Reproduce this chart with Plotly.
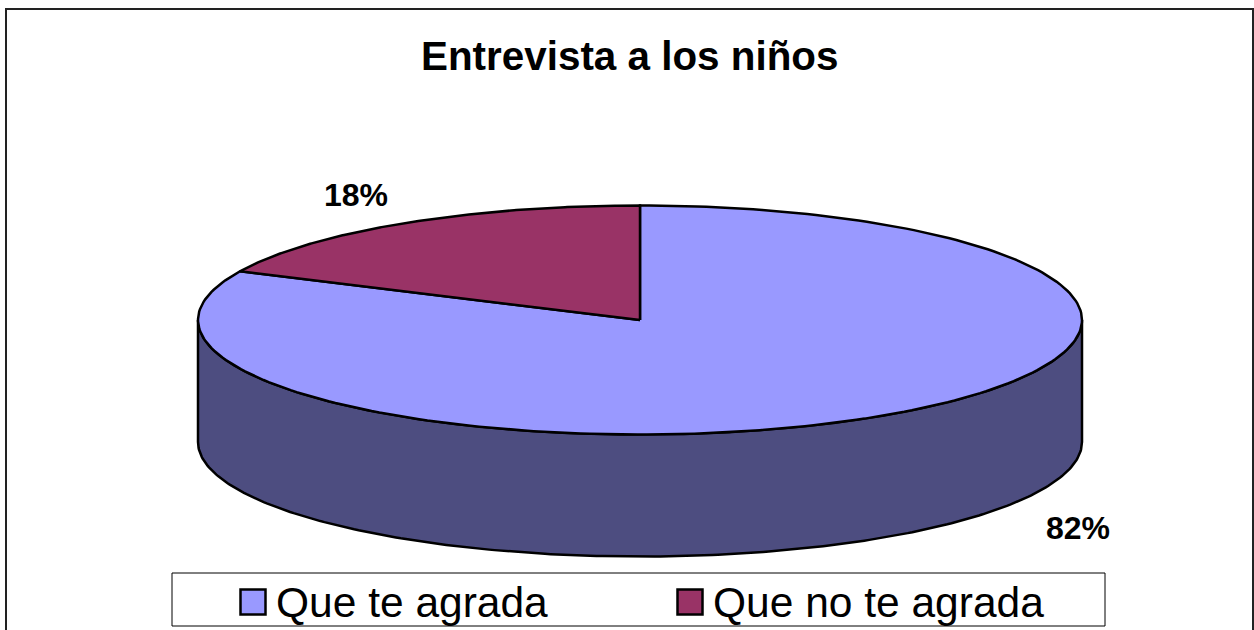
import numpy as np
import plotly.graph_objects as go

TITLE = "Entrevista a los niños"
categories = ["Que te agrada", "Que no te agrada"]
values = [82, 18]
top_colors = ["#9999FF", "#993366"]
side_colors = ["#4D4D80", "#4D1A33"]

W, H = 1254, 630
CX, CY, RX, RY, DEPTH = 640, 320, 442, 114.5, 122
FONT = "Liberation Sans, Arial, sans-serif"

fractions = np.array(values, dtype=float) / sum(values)
edges = np.concatenate([[0], np.cumsum(fractions)]) * 2 * np.pi


def rim(a, b, n=240):
    t = np.linspace(a, b, n)
    return CX + RX * np.sin(t), CY - RY * np.cos(t)


fig = go.Figure()

# Outer wall of each slice: only the front half (90deg to 270deg) can be seen
for i, name in enumerate(categories):
    a = max(edges[i], np.pi / 2)
    b = min(edges[i + 1], 3 * np.pi / 2)
    if b <= a:
        continue
    x, y = rim(a, b)
    fig.add_trace(go.Scatter(
        x=np.concatenate([x, x[::-1], x[:1]]),
        y=np.concatenate([y, y[::-1] + DEPTH, y[:1]]),
        mode="lines", fill="toself", fillcolor=side_colors[i],
        line=dict(color="black", width=2.5), hoverinfo="skip", showlegend=False,
    ))

# Top face of each slice
for i, name in enumerate(categories):
    x, y = rim(edges[i], edges[i + 1])
    fig.add_trace(go.Scatter(
        x=np.concatenate([[CX], x, [CX]]),
        y=np.concatenate([[CY], y, [CY]]),
        mode="lines", fill="toself", fillcolor=top_colors[i],
        line=dict(color="black", width=2.5), name=name,
        text=[f"{values[i]}%"], hoverinfo="name", showlegend=False,
    ))

# Legend swatches
legend_swatch_x = [253, 690]
legend_text_x = [274, 711]
LEGEND_Y = 602
for i, name in enumerate(categories):
    fig.add_trace(go.Scatter(
        x=[legend_swatch_x[i]], y=[LEGEND_Y], mode="markers",
        marker=dict(symbol="square", size=25, color=top_colors[i],
                    line=dict(color="black", width=2.5)),
        hoverinfo="skip", showlegend=False,
    ))

annotations = [dict(x=630, y=56, text=f"<b>{TITLE}</b>", showarrow=False,
                    font=dict(family=FONT, size=40.4, color="black"))]
label_xy = [(1078, 528), (356, 195)]
for i, v in enumerate(values):
    annotations.append(dict(x=label_xy[i][0], y=label_xy[i][1], text=f"<b>{v}%</b>",
                            showarrow=False,
                            font=dict(family=FONT, size=32, color="black")))
for i, name in enumerate(categories):
    annotations.append(dict(x=legend_text_x[i], y=LEGEND_Y, text=name, showarrow=False,
                            xanchor="left",
                            font=dict(family=FONT, size=42.5, color="black")))

fig.update_layout(
    width=W, height=H, margin=dict(l=0, r=0, t=0, b=0),
    paper_bgcolor="white", plot_bgcolor="white", showlegend=False,
    xaxis=dict(range=[0, W], visible=False, fixedrange=True),
    yaxis=dict(range=[H, 0], visible=False, fixedrange=True),
    annotations=annotations,
    shapes=[
        dict(type="rect", x0=6, y0=9, x1=1253, y1=660, line=dict(color="#222222", width=2)),
        dict(type="rect", x0=172, y0=573, x1=1105, y1=626, line=dict(color="black", width=1)),
    ],
)

fig.write_html("out.html", post_script="document.body.style.margin='0';document.body.style.overflow='hidden';",
               config={"displayModeBar": False})
